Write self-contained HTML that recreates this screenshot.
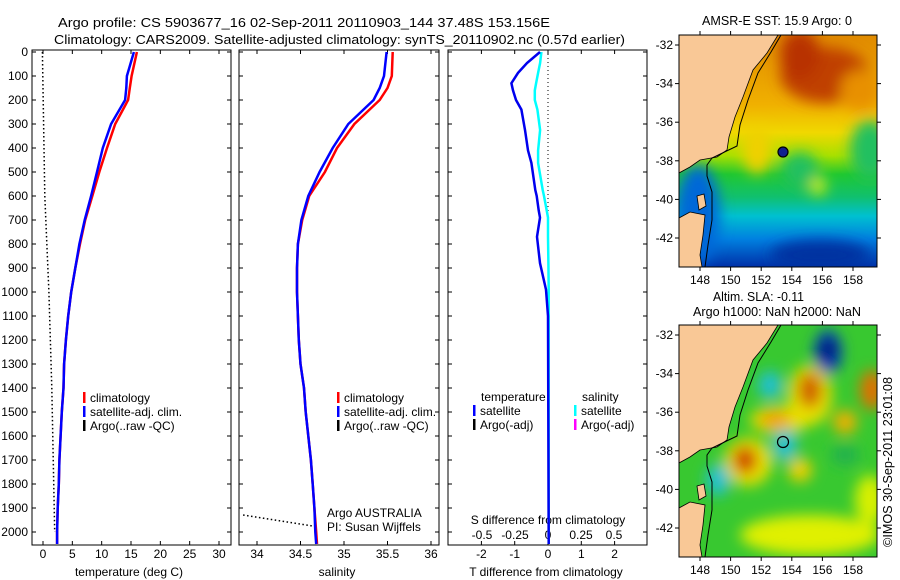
<!DOCTYPE html>
<html><head><meta charset="utf-8">
<style>
html,body{margin:0;padding:0;background:#fff;}
svg{display:block;font-family:"Liberation Sans",sans-serif;}
text{font-size:12px;fill:#000;}
</style></head>
<body>
<svg id="fig" width="900" height="580" viewBox="0 0 900 580" xmlns="http://www.w3.org/2000/svg">
<defs>
  <filter id="blur" x="-50%" y="-50%" width="200%" height="200%"><feGaussianBlur stdDeviation="7"/></filter>
  <clipPath id="clip1"><rect x="679" y="35" width="198" height="232"/></clipPath>
  <clipPath id="clip2"><rect x="679" y="325" width="198" height="232"/></clipPath>
  <linearGradient id="sstgrad" x1="0" y1="0" x2="0" y2="1">
    <stop offset="0" stop-color="#e08a00"/>
    <stop offset="0.3" stop-color="#f0b000"/>
    <stop offset="0.42" stop-color="#f0d800"/>
    <stop offset="0.52" stop-color="#a8e000"/>
    <stop offset="0.6" stop-color="#20c830"/>
    <stop offset="0.7" stop-color="#10c070"/>
    <stop offset="0.78" stop-color="#00c0d0"/>
    <stop offset="0.88" stop-color="#0080e0"/>
    <stop offset="1" stop-color="#0030a8"/>
  </linearGradient>
</defs>

<text x="58" y="27" textLength="492" lengthAdjust="spacingAndGlyphs" style="font-size:13px">Argo profile: CS 5903677_16 02-Sep-2011 20110903_144 37.48S 153.156E</text>
<text x="54" y="44" textLength="571" lengthAdjust="spacingAndGlyphs" style="font-size:13px">Climatology: CARS2009. Satellite-adjusted climatology: synTS_20110902.nc (0.57d earlier)</text>

<g id="panels"></g>

<!-- Map 1: SST -->
<g>
  <text x="702" y="25" textLength="150" lengthAdjust="spacingAndGlyphs" style="font-size:13px">AMSR-E SST: 15.9 Argo: 0</text>
  <g clip-path="url(#clip1)">
    <rect x="679" y="35" width="198" height="232" fill="url(#sstgrad)"/>
    <g filter="url(#blur)">
      <ellipse cx="825" cy="75" rx="45" ry="28" fill="#c04000"/>
      <ellipse cx="800" cy="55" rx="20" ry="25" fill="#b83000"/>
      <ellipse cx="860" cy="90" rx="20" ry="20" fill="#e89000"/>
      <ellipse cx="757" cy="150" rx="14" ry="24" fill="#f0d000"/>
      <ellipse cx="818" cy="186" rx="8" ry="9" fill="#d8f000"/>
      <ellipse cx="800" cy="170" rx="18" ry="18" fill="#20c060"/>
      <ellipse cx="870" cy="150" rx="20" ry="30" fill="#20c060"/>
      <ellipse cx="698" cy="215" rx="22" ry="50" fill="#0068d8"/>
      <ellipse cx="820" cy="255" rx="50" ry="15" fill="#0030a0"/>
    </g>
    <polygon points="679,35 778,35 767,53 753,70 743,97 735,117 729,137 727,150 717,157 700,160 690,167 679,173" fill="#f9c896" stroke="#000" stroke-width="0.8"/>
    <polygon points="679,218 690,212 705,215 703,235 700,255 702,267 679,267" fill="#f9c896" stroke="#000" stroke-width="0.8"/>
    <polygon points="697,196 704,194 706,206 699,210" fill="#f9c896" stroke="#000" stroke-width="0.8"/>
    <polyline points="781,35 771,52 758,73 748,100 740,125 737,146 712,158 707,165 707,176 712,192 712,220 708,245 705,267" fill="none" stroke="#000" stroke-width="1"/>
    <circle cx="783" cy="152" r="5" fill="#102090" stroke="#000" stroke-width="1.2"/>
  </g>
  <rect x="679" y="35" width="198" height="232" fill="none" stroke="#000" stroke-width="1"/>
  <g id="map1axes"></g>
</g>

<!-- Map 2: SLA -->
<g>
  <text x="713" y="301" textLength="91" lengthAdjust="spacingAndGlyphs" style="font-size:13px">Altim. SLA: -0.11</text>
  <text x="693" y="316" textLength="168" lengthAdjust="spacingAndGlyphs" style="font-size:13px">Argo h1000: NaN h2000: NaN</text>
  <g clip-path="url(#clip2)">
    <rect x="679" y="325" width="198" height="232" fill="#38c830"/>
    <g filter="url(#blur)">
      <ellipse cx="810" cy="395" rx="22" ry="30" fill="#e8e000"/>
      <ellipse cx="748" cy="462" rx="24" ry="24" fill="#e8e000"/>
      <ellipse cx="780" cy="420" rx="30" ry="14" fill="#e8e000"/>
      <ellipse cx="828" cy="352" rx="14" ry="22" fill="#0040c0"/>
      <ellipse cx="828" cy="350" rx="8" ry="12" fill="#001070"/>
      <ellipse cx="810" cy="390" rx="12" ry="18" fill="#d06000"/>
      <ellipse cx="872" cy="390" rx="12" ry="20" fill="#e07000"/>
      <ellipse cx="845" cy="422" rx="12" ry="12" fill="#f0b000"/>
      <ellipse cx="770" cy="385" rx="12" ry="14" fill="#20c0d0"/>
      <ellipse cx="775" cy="420" rx="16" ry="9" fill="#f0a000"/>
      <ellipse cx="785" cy="445" rx="12" ry="16" fill="#20c0d0"/>
      <ellipse cx="745" cy="460" rx="12" ry="14" fill="#d04000"/>
      <ellipse cx="718" cy="480" rx="12" ry="16" fill="#20c0d0"/>
      <ellipse cx="800" cy="470" rx="12" ry="12" fill="#f0d000"/>
      <ellipse cx="810" cy="535" rx="70" ry="20" fill="#e0f000"/>
      <ellipse cx="870" cy="500" rx="15" ry="25" fill="#d8f000"/>
      <ellipse cx="845" cy="455" rx="14" ry="10" fill="#20b050"/>
    </g>
    <polygon points="679,325 778,325 767,343 753,360 743,387 735,407 729,427 727,440 717,447 700,450 690,457 679,463" fill="#f9c896" stroke="#000" stroke-width="0.8"/>
    <polygon points="679,508 690,502 705,505 703,525 700,545 702,557 679,557" fill="#f9c896" stroke="#000" stroke-width="0.8"/>
    <polygon points="697,486 704,484 706,496 699,500" fill="#f9c896" stroke="#000" stroke-width="0.8"/>
    <polyline points="781,325 771,342 758,363 748,390 740,415 737,436 712,448 707,455 707,466 712,482 712,510 708,535 705,557" fill="none" stroke="#000" stroke-width="1"/>
    <circle cx="783" cy="442" r="5.5" fill="none" stroke="#000" stroke-width="1.2"/>
  </g>
  <rect x="679" y="325" width="198" height="232" fill="none" stroke="#000" stroke-width="1"/>
  <g id="map2axes"></g>
</g>
<text transform="translate(892,462) rotate(-90)" text-anchor="middle" textLength="170" lengthAdjust="spacingAndGlyphs" style="font-size:13px">©IMOS 30-Sep-2011 23:01:08</text>
</svg>

<script>
// ---- data ----
var depthTS = [0,100,150,200,300,400,500,600,700,800,900,1000,1100,1200,1300,1400,1500,1600,1700,1800,1900,2000,2050];
var tempClim = [16.0,15.1,14.8,14.5,12.3,10.9,9.6,8.4,7.2,6.3,5.5,4.8,4.3,3.9,3.6,3.5,3.2,3.0,2.8,2.7,2.5,2.4,2.4];
var tempSat  = [15.5,14.3,14.2,14.0,11.6,10.2,9.2,8.2,7.1,6.2,5.5,4.8,4.3,3.9,3.6,3.5,3.2,3.0,2.8,2.7,2.5,2.4,2.4];
var salClim  = [35.56,35.55,35.5,35.41,35.12,34.92,34.78,34.60,34.52,34.47,34.46,34.46,34.47,34.48,34.50,34.54,34.56,34.59,34.62,34.64,34.66,34.68,34.69];
var salSat   = [35.49,35.46,35.41,35.34,35.05,34.87,34.72,34.59,34.51,34.47,34.46,34.46,34.47,34.48,34.50,34.54,34.56,34.59,34.62,34.64,34.66,34.67,34.68];
var argoTDepth = [0,600,1000,1400,2000];
var argoTemp = [-0.1,0.3,1.0,1.5,2.0];
var argoSDepth = [1929,1975];
var argoSal = [33.84,34.64];
var diffDepth = [0,46,87,130,160,200,240,325,410,462,575,600,660,690,770,880,990,1100,1500,2050];
var tDiff = [-0.24,-0.63,-0.9,-1.1,-1.05,-0.96,-0.8,-0.69,-0.6,-0.5,-0.38,-0.34,-0.28,-0.24,-0.33,-0.24,-0.06,0.0,0.01,0.02];
var sDiff = [-0.05,-0.06,-0.075,-0.09,-0.1,-0.1,-0.08,-0.06,-0.075,-0.075,-0.04,-0.03,-0.01,0.0,0.0,0.003,0.005,0.005,0.005,0.005];
var depthTicks = [0,100,200,300,400,500,600,700,800,900,1000,1100,1200,1300,1400,1500,1600,1700,1800,1900,2000];
var tempTicks = [0,5,10,15,20,25,30];
var salTicks = [34,34.5,35,35.5,36];
var tdTicks = [-2,-1,0,1,2];
var sdTicks = [-0.5,-0.25,0,0.25,0.5];
var sdTickLabels = ['-0.5','-0.25','0','0.25','0.5'];
var lonTicks = [148,150,152,154,156,158];
var latTicks = [-32,-34,-36,-38,-40,-42];

var NS = 'http://www.w3.org/2000/svg';
function mk(parent, tag, attrs, txt) {
  var e = document.createElementNS(NS, tag);
  for (var k in attrs) e.setAttribute(k, attrs[k]);
  if (txt !== undefined) e.textContent = txt;
  parent.appendChild(e);
  return e;
}
var Y = function(d){ return 52 + d * 0.24; };
var X1 = function(v){ return 43 + v * 5.867; };
var X2 = function(v){ return 257 + (v - 34) * 87; };
var X3 = function(v){ return 548 + v * 33.3; };
var X3s = function(v){ return 548 + v * 132; };
var TOP = 50, BOT = 545;
var g = document.getElementById('panels');

function line(xs, ys, xf, col, w, dash, name) {
  var pts = xs.map(function(v, i){ return xf(v).toFixed(1) + ',' + Y(ys[i]).toFixed(1); }).join(' ');
  var attrs = {points: pts, fill: 'none', stroke: col, 'stroke-width': w};
  if (dash) attrs['stroke-dasharray'] = dash;
  var p = mk(g, 'polyline', attrs);
  
  
  return p;
}
function frame(x0, x1, name) {
  var r = mk(g, 'rect', {x: x0, y: TOP, width: x1 - x0, height: BOT - TOP, fill: 'none', stroke: '#000', 'stroke-width': 1});
  
  
  depthTicks.forEach(function(d){
    mk(g, 'line', {x1: x0, x2: x0 + 4, y1: Y(d), y2: Y(d), stroke: '#000'});
    mk(g, 'line', {x1: x1, x2: x1 - 4, y1: Y(d), y2: Y(d), stroke: '#000'});
  });
}
function xticks(ticks, xf, labels, ly, name) {
  ticks.forEach(function(t, i){
    mk(g, 'line', {x1: xf(t), x2: xf(t), y1: BOT, y2: BOT - 4, stroke: '#000'});
    mk(g, 'line', {x1: xf(t), x2: xf(t), y1: TOP, y2: TOP + 4, stroke: '#000'});
    var tx = mk(g, 'text', {x: xf(t), y: ly, 'text-anchor': 'middle'}, labels ? labels[i] : String(t));
    
    
  });
}
function legendRow(x, y, col, label, name) {
  mk(g, 'rect', {x: x, y: y - 10, width: 2.5, height: 11, fill: col});
  var t = mk(g, 'text', {x: x + 7, y: y}, label);
  
  
}

// Panel 1 temperature
frame(32, 231, 'temperature-panel');
depthTicks.forEach(function(d){
  var t = mk(g, 'text', {x: 28, y: Y(d) + 4, 'text-anchor': 'end'}, String(d));
  
  
});
xticks(tempTicks, X1, null, 558, 'temperature-tick-label');
var xl1 = mk(g, 'text', {x: 129, y: 576, 'text-anchor': 'middle'}, 'temperature (deg C)');


line(argoTemp, argoTDepth, X1, '#000', 1.5, '1.5,2.5', 'argo-temperature-line');
line(tempClim, depthTS, X1, '#ff0000', 2.5, null, 'temperature-climatology-line');
line(tempSat, depthTS, X1, '#0000ff', 2.5, null, 'temperature-satellite-line');
legendRow(83, 402, '#ff0000', 'climatology', 'legend-climatology');
legendRow(83, 416, '#0000ff', 'satellite-adj. clim.', 'legend-satellite-adj');
legendRow(83, 430, '#000', 'Argo(..raw -QC)', 'legend-argo');

// Panel 2 salinity
frame(239, 439, 'salinity-panel');
xticks(salTicks, X2, null, 558, 'salinity-tick-label');
var xl2 = mk(g, 'text', {x: 337, y: 576, 'text-anchor': 'middle'}, 'salinity');


line(argoSal, argoSDepth, X2, '#000', 1.5, '1.5,2.5', 'argo-salinity-line');
line(salClim, depthTS, X2, '#ff0000', 2.5, null, 'salinity-climatology-line');
line(salSat, depthTS, X2, '#0000ff', 2.5, null, 'salinity-satellite-line');
legendRow(337, 402, '#ff0000', 'climatology', 'legend-climatology-sal');
legendRow(337, 416, '#0000ff', 'satellite-adj. clim.', 'legend-satellite-adj-sal');
legendRow(337, 430, '#000', 'Argo(..raw -QC)', 'legend-argo-sal');
var a1 = mk(g, 'text', {x: 327, y: 517}, 'Argo AUSTRALIA');


var a2 = mk(g, 'text', {x: 327, y: 531}, 'PI: Susan Wijffels');



// Panel 3 differences
frame(448, 647, 'difference-panel');
mk(g, 'line', {x1: X3(0), x2: X3(0), y1: TOP, y2: BOT, stroke: '#000', 'stroke-dasharray': '1,3'});
xticks(tdTicks, X3, null, 558, 'tdiff-tick-label');
sdTicks.forEach(function(t, i){
  var tx = mk(g, 'text', {x: X3s(t), y: 539, 'text-anchor': 'middle'}, sdTickLabels[i]);
  
  
});
var sl = mk(g, 'text', {x: 548, y: 524, 'text-anchor': 'middle'}, 'S difference from climatology');


var tl = mk(g, 'text', {x: 546, y: 576, 'text-anchor': 'middle'}, 'T difference from climatology');


line(sDiff, diffDepth, X3s, '#00ffff', 2.5, null, 'salinity-difference-line');
line(tDiff, diffDepth, X3, '#0000ee', 2.5, null, 'temperature-difference-line');
var lt = mk(g, 'text', {x: 481, y: 401}, 'temperature');


var ls = mk(g, 'text', {x: 582, y: 401}, 'salinity');


legendRow(473, 415, '#0000ff', 'satellite', 'legend-t-satellite');
legendRow(473, 429, '#000', 'Argo(-adj)', 'legend-t-argo');
legendRow(574, 415, '#00ffff', 'satellite', 'legend-s-satellite');
legendRow(574, 429, '#ff00ff', 'Argo(-adj)', 'legend-s-argo');

// Map axes
function mapAxes(id, top, bot, lat0y) {
  var m = document.getElementById(id);
  var LX = function(l){ return 700 + (l - 148) * 15.3; };
  var LY = function(l){ return lat0y + (-32 - l) * 19.3; };
  lonTicks.forEach(function(l){
    mk(m, 'line', {x1: LX(l), x2: LX(l), y1: top, y2: top - 4, stroke: '#000'});
    mk(m, 'line', {x1: LX(l), x2: LX(l), y1: bot, y2: bot + 4, stroke: '#000'});
    var t = mk(m, 'text', {x: LX(l), y: bot + 17, 'text-anchor': 'middle'}, String(l));
    
    
  });
  latTicks.forEach(function(l){
    mk(m, 'line', {x1: 679, x2: 675, y1: LY(l), y2: LY(l), stroke: '#000'});
    mk(m, 'line', {x1: 877, x2: 881, y1: LY(l), y2: LY(l), stroke: '#000'});
    var t = mk(m, 'text', {x: 673, y: LY(l) + 4, 'text-anchor': 'end'}, String(l));
    
    
  });
}
mapAxes('map1axes', 35, 267, 45);
mapAxes('map2axes', 325, 557, 335);
</script>
</body></html>
